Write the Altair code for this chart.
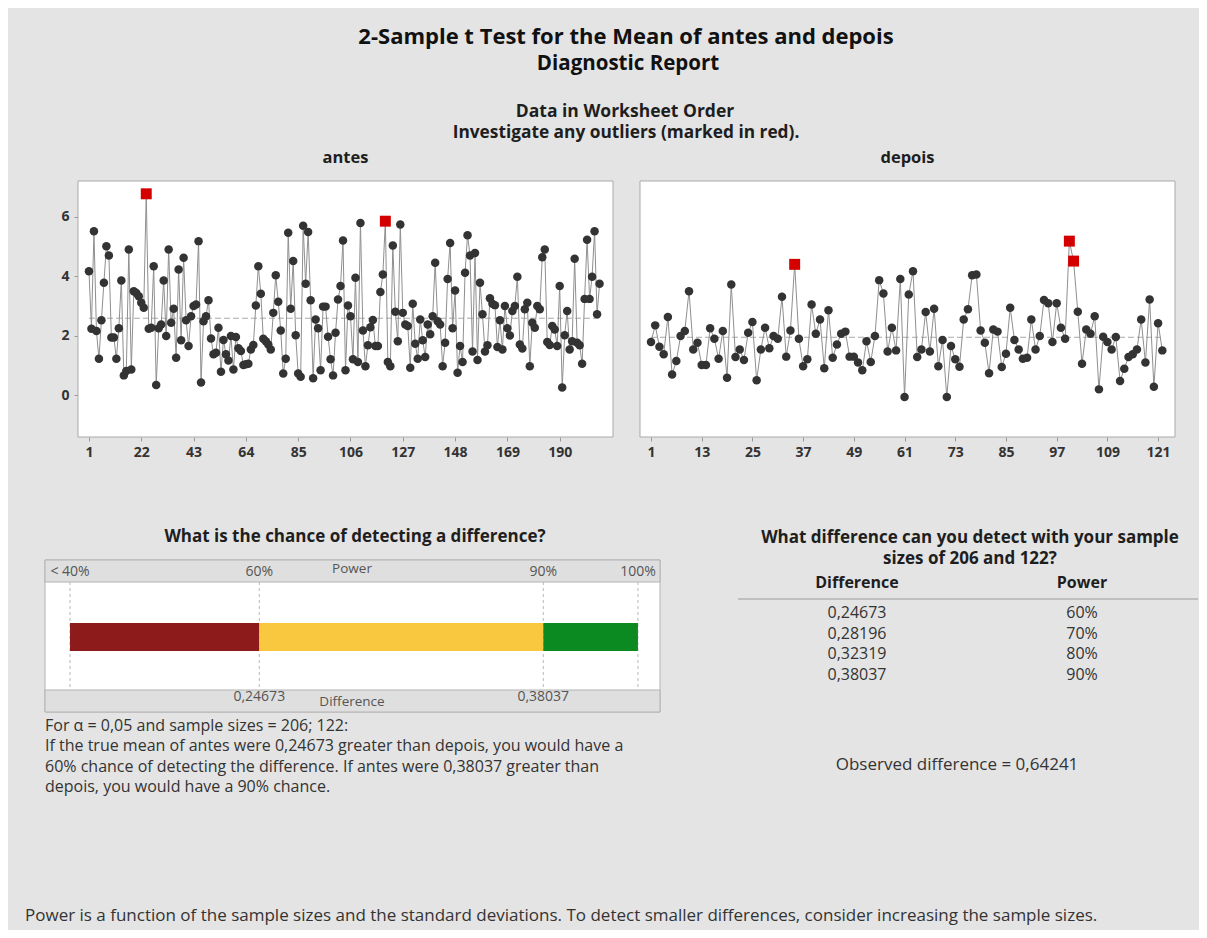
import altair as alt
import pandas as pd

FONT = "Open Sans"
BG = "#e4e4e4"

# ---------------- data ----------------
antes = [
    4.17, 2.24, 5.51, 2.16, 1.23, 2.52, 3.78, 5.01, 4.7, 1.94, 1.94, 1.23, 2.25, 3.86, 0.67, 0.82,
    4.9, 0.87, 3.5, 3.44, 3.33, 3.11, 2.94, 6.77,
    2.24, 2.27, 4.34, 0.35, 2.25, 2.38, 3.86, 1.99, 4.9, 2.44, 2.91, 1.26, 4.23, 1.85, 4.62, 2.52,
    1.66, 2.66, 3.0, 3.05, 5.18, 0.43, 2.49, 2.66, 3.19, 1.91, 1.38, 1.43, 2.27, 0.79, 1.86, 1.38,
    1.17, 1.99, 0.87, 1.96, 1.58, 1.49, 1.02, 1.04, 1.06, 1.54, 1.69, 3.02, 4.34, 3.41, 1.9, 1.82,
    1.71, 1.54, 2.77, 4.03, 3.14, 2.18, 0.73, 1.23, 5.46, 2.91, 4.51, 2.02, 0.73, 0.62, 5.7, 3.75,
    5.49, 3.19, 0.57, 2.55, 2.25, 0.84, 2.98, 2.98, 1.97, 1.21, 0.67, 2.1, 3.22, 3.67, 5.2, 0.84,
    3.02, 2.66, 1.21, 3.95, 1.12, 5.79, 2.18, 0.98, 1.68, 2.29, 2.53, 1.66, 1.66, 3.47, 4.06, 5.85,
    1.12, 0.98, 5.03, 2.81, 1.82, 5.74, 2.77, 2.38, 2.33, 0.93, 3.08, 1.73, 1.23, 2.55, 1.85, 1.29,
    2.38, 2.05, 2.66, 4.45, 2.49, 2.38, 0.98, 1.77, 3.91, 5.12, 2.25, 3.52, 0.76,
    1.66, 1.12, 4.12, 5.38, 4.7, 1.47, 4.78, 1.19, 3.78, 2.72, 1.47, 1.68, 3.26, 3.08, 3.03, 1.62,
    2.52, 1.54, 3.0, 2.25, 2.01, 2.83, 3.0, 3.98, 1.71, 1.57, 2.89, 3.11, 0.98, 2.44, 2.27, 3.0,
    2.89, 4.64, 4.9, 1.79, 1.69, 2.33, 2.21, 1.66, 3.67, 0.26, 2.02, 2.83, 1.54, 1.82, 4.59, 1.77,
    1.68, 1.06, 3.24, 5.23, 3.24, 3.98, 5.51, 2.72, 3.75,
]
depois = [
    1.79, 2.35, 1.63, 1.38, 2.63, 0.7, 1.15, 1.99, 2.16, 3.5,
    1.54, 1.77, 1.02, 1.02, 2.25, 1.9, 1.23, 2.16, 0.59, 3.72,
    1.29, 1.54, 1.19, 2.1, 2.46, 0.51, 1.54, 2.27, 1.58, 1.99,
    1.9, 3.31, 1.3, 2.18, 4.4, 1.9, 0.98, 1.21, 3.05, 2.07,
    2.55, 0.91, 2.86, 1.26, 1.71, 2.07, 2.14, 1.3, 1.3, 1.1,
    0.84, 1.82, 1.12, 1.99, 3.87, 3.42, 1.47, 2.27, 1.51, 3.91,
    -0.06, 3.39, 4.17, 1.29, 1.54, 2.8, 1.47, 2.91, 0.98, 1.86,
    -0.06, 1.66, 1.21, 0.96, 2.55, 2.89, 4.03, 4.06, 2.18, 1.77,
    0.74, 2.21, 2.14, 0.95, 1.4, 2.94, 1.86, 1.54, 1.23, 1.26,
    2.55, 1.54, 1.99, 3.2, 3.09, 1.79, 3.09, 2.27, 1.9, 5.18,
    4.51, 2.81, 1.06, 2.21, 2.07, 2.66, 0.2, 1.97, 1.79, 1.54,
    1.96, 0.48, 0.89, 1.29, 1.38, 1.54, 2.55, 1.1, 3.22, 0.29,
    2.42, 1.51,
]
antes_outliers = [24, 120]
depois_outliers = [35, 100, 101]
antes_mean = 2.59
depois_mean = 1.95
antes_ticks = [1, 22, 43, 64, 85, 106, 127, 148, 169, 190]
depois_ticks = [1, 13, 25, 37, 49, 61, 73, 85, 97, 109, 121]
y_ticks = [0, 2, 4, 6]
y_domain = [-1.4, 7.2]

power_domain = [37.36, 102.33]
power_edges = [40, 60, 90, 100]
power_edge_labels = ["< 40%", "60%", "90%", "100%"]
seg_names = ["low", "mid", "high"]
seg_lo = [40, 60, 90]
seg_hi = [60, 90, 100]
seg_colors = ["#8e1b1b", "#f9c83f", "#0b8a22"]
diff_power = [60, 90]
diff_labels = ["0,24673", "0,38037"]

table_diff = ["0,24673", "0,28196", "0,32319", "0,38037"]
table_power = ["60%", "70%", "80%", "90%"]
table_headers = ["Difference", "Power"]

title1 = "2-Sample t Test for the Mean of antes and depois"
title2 = "Diagnostic Report"
sec1 = "Data in Worksheet Order"
sec1b = "Investigate any outliers (marked in red)."
power_title = "What is the chance of detecting a difference?"
table_title = ["What difference can you detect with your sample", "sizes of 206 and 122?"]
paragraph = [
    "For α = 0,05 and sample sizes = 206; 122:",
    "If the true mean of antes were 0,24673 greater than depois, you would have a",
    "60% chance of detecting the difference. If antes were 0,38037 greater than",
    "depois, you would have a 90% chance.",
]
observed = "Observed difference = 0,64241"
footer = ("Power is a function of the sample sizes and the standard deviations. "
          "To detect smaller differences, consider increasing the sample sizes.")


# ---------------- helpers ----------------
def label(text, x, y, size=15, weight="normal", align="center", color="#1e1e1e"):
    return alt.Chart(pd.DataFrame({"t": [text]})).mark_text(
        align=align, baseline="middle", fontSize=size, fontWeight=weight,
        font=FONT, color=color,
    ).encode(x=alt.value(x), y=alt.value(y), text="t:N")


YSCALE = alt.Scale(domain=y_domain, nice=False, zero=False)


def panel(values, outliers, ticks, mean, xdomain, name, show_y, extra):
    df = pd.DataFrame({"obs": list(range(1, len(values) + 1)), "value": values})
    df["outlier"] = [o in outliers for o in df["obs"]]
    xs = alt.Scale(domain=xdomain, nice=False, zero=False)
    xax = alt.Axis(values=ticks, grid=False, domain=False, tickColor="#9a9a9a", tickSize=4,
                   labelFont=FONT, labelFontSize=14, labelColor="#333333", labelFontWeight="bold",
                   labelPadding=4, title=None)
    if show_y:
        yax = alt.Axis(values=y_ticks, grid=False, domain=False, tickColor="#9a9a9a", tickSize=4,
                       labelFont=FONT, labelFontSize=14, labelColor="#333333", labelFontWeight="bold",
                       labelPadding=5, title=None)
    else:
        yax = None
    X = alt.X("obs:Q", scale=xs, axis=xax)
    Y = alt.Y("value:Q", scale=YSCALE, axis=yax)
    bg_df = pd.DataFrame({"x0": [xdomain[0]], "x1": [xdomain[1]], "y0": [y_domain[0]], "y1": [y_domain[1]]})
    bg = alt.Chart(bg_df).mark_rect(fill="white", stroke="#a9a9a9", strokeWidth=1).encode(
        x=alt.X("x0:Q", scale=xs, axis=xax), x2="x1:Q",
        y=alt.Y("y0:Q", scale=YSCALE, axis=yax), y2="y1:Q",
    )
    base = alt.Chart(df)
    line = base.mark_line(color="#8f8f8f", strokeWidth=1).encode(x=X, y=Y)
    mdf = pd.DataFrame({"a": [1], "b": [len(values)], "m": [mean]})
    mrule = alt.Chart(mdf).mark_rule(color="#a8a8a8", strokeDash=[6, 3], strokeWidth=1).encode(
        x=alt.X("a:Q", scale=xs, axis=xax), x2="b:Q", y=alt.Y("m:Q", scale=YSCALE, axis=yax)
    )
    pts = base.transform_filter("!datum.outlier").mark_point(
        shape="circle", filled=True, size=72, color="#333333", opacity=1
    ).encode(x=X, y=Y)
    outs = base.transform_filter("datum.outlier").mark_point(
        shape="square", filled=True, size=120, color="#d40000", opacity=1
    ).encode(x=X, y=Y)
    ttl = label(name, 267.5, -23, size=16.5, weight="bold")
    layers = [bg, mrule, line, pts, outs, ttl] + extra
    return alt.layer(*layers).properties(width=535, height=256)


# invisible rules that fix the overall page bounds (local to antes panel origin)
frame_top = alt.Chart(pd.DataFrame({"a": [0]})).mark_rule(strokeOpacity=0, color=BG).encode(
    x=alt.value(-70), x2=alt.value(1121), y=alt.value(-173))
frame_bot = alt.Chart(pd.DataFrame({"a": [1]})).mark_rule(strokeOpacity=0, color=BG).encode(
    x=alt.value(-70), x2=alt.value(1121), y=alt.value(749))
top_texts = [
    frame_top, frame_bot,
    label(title1, 548, -144, size=22, weight="bold", color="#111111"),
    label(title2, 550, -117, size=20.5, weight="bold", color="#111111"),
    label(sec1, 547, -69, size=17.5, weight="bold"),
    label(sec1b, 548, -48, size=17.3, weight="bold"),
]

antes_chart = panel(antes, antes_outliers, antes_ticks, antes_mean, [-3.4, 211.4], "antes", True, top_texts)
depois_chart = panel(depois, depois_outliers, depois_ticks, depois_mean, [-1.6, 125.0], "depois", False, [])

# ---------------- power bar ----------------
PS = alt.Scale(domain=power_domain, range=[-33, 582], nice=False, zero=False)
box_df = pd.DataFrame({"a": [power_domain[0]], "b": [power_domain[1]]})


def strip(y0, y1, fill):
    return alt.Chart(box_df).mark_rect(fill=fill, stroke="#b3b3b3", strokeWidth=1).encode(
        x=alt.X("a:Q", scale=PS, axis=None), x2="b:Q", y=alt.value(y0), y2=alt.value(y1))


edges_df = pd.DataFrame({"p": power_edges, "lab": power_edge_labels})
vrules = alt.Chart(edges_df).mark_rule(color="#b8b8b8", strokeDash=[3, 3], strokeWidth=1).encode(
    x=alt.X("p:Q", scale=PS, axis=None), y=alt.value(22), y2=alt.value(130))
seg_df = pd.DataFrame({"seg": seg_names, "lo": seg_lo, "hi": seg_hi})
bars = alt.Chart(seg_df).mark_rect().encode(
    x=alt.X("lo:Q", scale=PS, axis=None), x2="hi:Q",
    y=alt.value(63), y2=alt.value(91),
    color=alt.Color("seg:N", scale=alt.Scale(domain=seg_names, range=seg_colors), legend=None),
)
top_labels = alt.Chart(edges_df).mark_text(fontSize=14, font=FONT, color="#555555", baseline="middle").encode(
    x=alt.X("p:Q", scale=PS, axis=None), y=alt.value(12), text="lab:N")
diff_df = pd.DataFrame({"p": diff_power, "lab": diff_labels})
bot_labels = alt.Chart(diff_df).mark_text(fontSize=14, font=FONT, color="#555555", baseline="middle").encode(
    x=alt.X("p:Q", scale=PS, axis=None), y=alt.value(137), text="lab:N")
para_layers = [label(line_, -33, 166 + 20.4 * i, size=16, align="left", color="#333333")
               for i, line_ in enumerate(paragraph)]
power_chart = alt.layer(
    strip(0, 152, "white"), strip(0, 22, "#dfdfdf"), strip(130, 152, "#dfdfdf"),
    vrules, bars, top_labels, bot_labels,
    label("Power", 274, 9, size=13.5, color="#555555"),
    label("Difference", 274, 142, size=13.5, color="#555555"),
    label(power_title, 277, -23, size=17, weight="bold"),
    *para_layers,
    label(footer, -53, 356, size=17, align="left", color="#333333"),
).properties(width=582, height=152)

# ---------------- table ----------------
tab_df = pd.DataFrame({
    "row": list(range(len(table_diff))) * 2,
    "col": [0] * len(table_diff) + [1] * len(table_power),
    "txt": table_diff + table_power,
})
TX = alt.Scale(domain=[0, 1], range=[119, 344], nice=False, zero=False)
TY = alt.Scale(domain=[0, 3], range=[53, 115], nice=False, zero=False)
cells = alt.Chart(tab_df).mark_text(fontSize=16, font=FONT, color="#333333", baseline="middle").encode(
    x=alt.X("col:Q", scale=TX, axis=None), y=alt.Y("row:Q", scale=TY, axis=None), text="txt:N")
head_df = pd.DataFrame({"col": [0, 1], "txt": table_headers})
heads = alt.Chart(head_df).mark_text(fontSize=16, font=FONT, color="#1e1e1e", fontWeight="bold", baseline="middle").encode(
    x=alt.X("col:Q", scale=TX, axis=None), y=alt.value(23), text="txt:N")
hline = alt.Chart(pd.DataFrame({"a": [2]})).mark_rule(color="#9a9a9a", strokeWidth=1).encode(
    x=alt.value(0), x2=alt.value(460), y=alt.value(39))
table_chart = alt.layer(
    cells, heads, hline,
    label(table_title[0], 232, -22, size=17, weight="bold"),
    label(table_title[1], 232, -1, size=17, weight="bold"),
    label(observed, 219, 205, size=17, color="#333333"),
).properties(width=460, height=152)

row1 = alt.hconcat(antes_chart, depois_chart, spacing=27, bounds="flush")
row2 = alt.hconcat(power_chart, table_chart, spacing=78, bounds="flush")
# nested rows report no height under flush bounds, so the spacing spans the panel height too
chart = alt.vconcat(row1, row2, spacing=379, bounds="flush").configure(
    background=BG, padding=0
).configure_view(strokeWidth=0)

chart.save("out.html", embed_options={"renderer": "svg", "actions": False})
